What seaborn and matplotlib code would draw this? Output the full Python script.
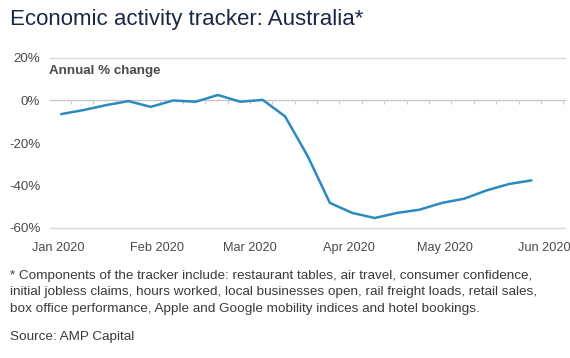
import pandas as pd
import seaborn as sns
import matplotlib.pyplot as plt
import matplotlib.dates as mdates
from matplotlib.ticker import NullFormatter

# weekly tracker readings, annual % change
week_start = "2020-01-02"
tracker = [-6.4, -4.5, -2.2, -0.3, -3.0, 0.0, -0.6, 2.6, -0.6, 0.3, -7.5,
           -26.0, -48.2, -52.9, -55.3, -52.9, -51.4, -48.2, -46.2, -42.3,
           -39.3, -37.6]
month_labels = ["Jan 2020", "Feb 2020", "Mar 2020", "Apr 2020", "May 2020", "Jun 2020"]
y_ticks = [-60, -40, -20, 0, 20]

title = "Economic activity tracker: Australia*"
unit_label = "Annual % change"
footnote = ("* Components of the tracker include: restaurant tables, air travel, consumer confidence,\n"
            "initial jobless claims, hours worked, local businesses open, rail freight loads, retail sales,\n"
            "box office performance, Apple and Google mobility indices and hotel bookings.")
source = "Source: AMP Capital"

dates = pd.date_range(week_start, periods=len(tracker), freq="7D")
df = pd.DataFrame({"date": dates, "value": tracker})

sns.set_style("white")
plt.rcParams["font.family"] = ["Liberation Sans", "DejaVu Sans"]

fig = plt.figure(figsize=(5.7, 3.58), dpi=100)
ax = fig.add_axes([50 / 570, 1 - 228 / 358, 515 / 570, 170 / 358])

sns.lineplot(data=df, x="date", y="value", color="#2b8bbf", linewidth=1.8, ax=ax)

ax.set_xlim(dates[0] - pd.Timedelta(days=3.5), dates[-1] + pd.Timedelta(days=10.5))
ax.set_ylim(-60, 20)
ax.set_xlabel("")
ax.set_ylabel("")

# month labels at the first of each month
month_pos = pd.date_range("2020-01-01", periods=len(month_labels), freq="MS")
ax.set_xticks(month_pos)
ax.set_xticklabels(month_labels)
ax.set_yticks(y_ticks)
ax.set_yticklabels([f"{v}%" for v in y_ticks])
ax.tick_params(axis="x", length=0, pad=10, labelsize=9.2, labelcolor="#4a4a4a")
ax.tick_params(axis="y", length=0, pad=7, labelsize=9.6, labelcolor="#4a4a4a")

for side in ["left", "right"]:
    ax.spines[side].set_visible(False)
for side in ["top", "bottom"]:
    ax.spines[side].set_color("#d9d9d9")
    ax.spines[side].set_linewidth(1)

# zero line with weekly ticks
zero = ax.secondary_xaxis(0.75)
zero.xaxis.set_major_locator(mdates.WeekdayLocator(byweekday=mdates.SU))
zero.xaxis.set_major_formatter(NullFormatter())
zero.xaxis.set_ticks_position("bottom")
zero.tick_params(axis="x", length=2.5, color="#c8c8c8", direction="out")
for side in ["top", "bottom"]:
    zero.spines[side].set_color("#c8c8c8")
    zero.spines[side].set_linewidth(1)

fig.text(10 / 570, 1 - 20 / 358, title, fontsize=16, color="#1c2745", va="center")
fig.text(49 / 570, 1 - 71 / 358, unit_label, fontsize=9.6, fontweight="bold",
         color="#4a4a4a", va="center")
fig.text(10 / 570, 1 - 270 / 358, footnote, fontsize=9.7, color="#3a3a3a",
         va="top", linespacing=1.5)
fig.text(10 / 570, 1 - 337 / 358, source, fontsize=9.7, color="#3a3a3a", va="center")

fig.savefig("out.png", dpi=100)
